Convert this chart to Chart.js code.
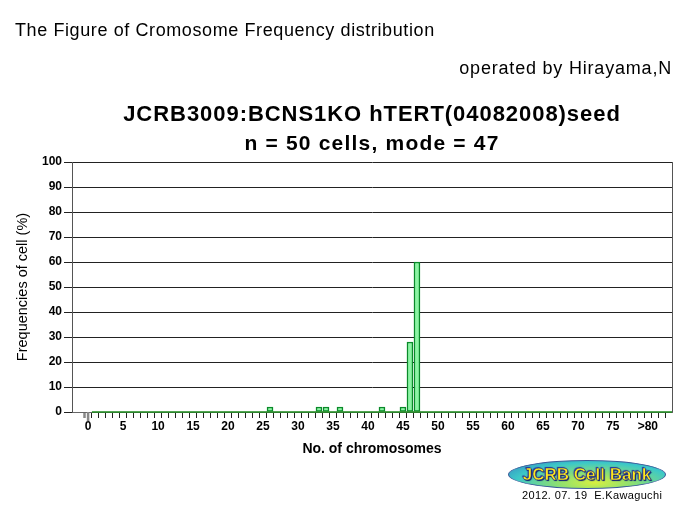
<!DOCTYPE html>
<html>
<head>
<meta charset="utf-8">
<script src="https://cdn.jsdelivr.net/npm/chart.js@4.4.1/dist/chart.umd.min.js"></script>
<style>
body { margin: 0; background: #fff; font-family: "Liberation Sans", Arial, sans-serif; }
#wrap { position: relative; width: 700px; height: 520px; overflow: hidden; }
#chart { position: absolute; left: 0; top: 0; }
.txt { position: absolute; white-space: nowrap; color: #000; }
#head { left: 15px; top: 20px; font-size: 18px; letter-spacing: 0.6px; }
#oper { right: 28px; top: 58px; font-size: 18px; letter-spacing: 0.8px; }
#title1, #title2 { left: 72px; width: 600px; text-align: center; font-weight: bold; }
#title1 { top: 101px; font-size: 22px; letter-spacing: 0.95px; }
#title2 { top: 131px; font-size: 21px; letter-spacing: 1.2px; }
#logo {
    position: absolute; left: 508px; top: 460px; width: 156px; height: 27px;
    border-radius: 50%; border: 1px solid #3a5a9a;
    background: radial-gradient(ellipse at 55% 80%, #d8f040 0%, #8ee070 30%, #3cc8c8 65%, #3478c0 100%);
    text-align: center; line-height: 27px;
    font-weight: bold; font-size: 17px; color: #ffe81a;
    -webkit-text-stroke: 0.5px #1c2a8c;
    text-shadow: 1px 1px 1px #10186a, -1px -1px 1px #2a3aa0;
}
#date { left: 522px; top: 489px; font-size: 11px; letter-spacing: 0.35px; }
</style>
</head>
<body>
<div id="wrap">
    <canvas id="chart" width="700" height="520"></canvas>
    <div class="txt" id="head">The Figure of Cromosome Frequency distribution</div>
    <div class="txt" id="oper">operated by Hirayama,N</div>
    <div class="txt" id="title1">JCRB3009:BCNS1KO hTERT(04082008)seed</div>
    <div class="txt" id="title2">n = 50 cells, mode = 47</div>
    <div id="logo">JCRB Cell Bank</div>
    <div class="txt" id="date">2012. 07. 19&nbsp; E.Kawaguchi</div>
</div>
<script>
// chromosome counts with non-zero frequency, and their frequency (%)
var chromosomes = [26, 33, 34, 36, 42, 45, 46, 47];
var frequencies = [2, 2, 2, 2, 2, 2, 28, 60];
// tick labels on the x axis, every 5 chromosomes
var xTickLabels = ['0', '5', '10', '15', '20', '25', '30', '35', '40', '45', '50', '55', '60', '65', '70', '75', '>80'];
var yTicks = [0, 10, 20, 30, 40, 50, 60, 70, 80, 90, 100];

var points = chromosomes.map(function (c, i) {
    return { x: c, y: frequencies[i] };
});

// green line for the empty classes, right border, long tick at 0
var framePlugin = {
    id: 'frame',
    afterDatasetsDraw: function (chart) {
        var ctx = chart.ctx;
        var area = chart.chartArea;
        var x = chart.scales.x;
        var y = chart.scales.y;
        ctx.save();
        ctx.strokeStyle = '#1a8a1a';
        ctx.lineWidth = 1.5;
        ctx.beginPath();
        ctx.moveTo(x.getPixelForValue(0.55), y.getPixelForValue(0));
        ctx.lineTo(area.right, y.getPixelForValue(0));
        ctx.stroke();
        ctx.strokeStyle = '#555';
        ctx.lineWidth = 1;
        ctx.beginPath();
        ctx.moveTo(area.right + 0.5, area.top);
        ctx.lineTo(area.right + 0.5, area.bottom);
        ctx.stroke();
        ctx.strokeStyle = '#888';
        ctx.lineWidth = 2.5;
        ctx.beginPath();
        ctx.moveTo(x.getPixelForValue(0), area.bottom);
        ctx.lineTo(x.getPixelForValue(0), area.bottom + 9);
        ctx.stroke();
        ctx.restore();
    }
};

var ctx = document.getElementById('chart').getContext('2d');

var chart = new Chart(ctx, {
    type: 'bar',
    data: {
        datasets: [{
            label: 'Frequencies',
            data: points,
            backgroundColor: '#8cf5a4',
            borderColor: '#0a8a2a',
            borderWidth: 1.5,
            borderSkipped: false,
            barThickness: 6
        }]
    },
    options: {
        responsive: false,
        animation: false,
        layout: { padding: { top: 162, right: 28, bottom: 58, left: 0 } },
        plugins: {
            legend: { display: false },
            tooltip: { enabled: false }
        },
        scales: {
            x: {
                type: 'linear',
                offset: false,
                min: -2.3,
                max: 83.45,
                afterFit: function (scale) { scale.height = 50; },
                afterBuildTicks: function (scale) {
                    scale.ticks = scale.ticks.filter(function (t) { return t.value >= 0 && t.value <= 83; });
                },
                ticks: {
                    stepSize: 1,
                    includeBounds: false,
                    autoSkip: false,
                    maxRotation: 0,
                    padding: 1,
                    color: '#000',
                    font: { family: 'Liberation Sans', size: 12, weight: 'bold' },
                    callback: function (value) {
                        return value % 5 === 0 && value / 5 < xTickLabels.length ? xTickLabels[value / 5] : '';
                    }
                },
                grid: {
                    drawOnChartArea: false,
                    tickLength: 6,
                    color: function (c) { return c.tick && c.tick.value === 0 ? '#888' : '#222'; },
                    tickWidth: function (c) { return c.tick && c.tick.value === 0 ? 2.5 : 1; }
                },
                border: { color: '#666', width: 1 },
                title: {
                    display: true,
                    text: 'No. of chromosomes',
                    color: '#000',
                    font: { family: 'Liberation Sans', size: 14, weight: 'bold' },
                    padding: { top: 0, bottom: 4 }
                }
            },
            y: {
                min: 0,
                max: 100,
                afterFit: function (scale) { scale.width = 72; },
                afterBuildTicks: function (scale) {
                    scale.ticks = yTicks.map(function (v) { return { value: v }; });
                },
                ticks: {
                    padding: 2,
                    color: '#000',
                    font: { family: 'Liberation Sans', size: 12, weight: 'bold' }
                },
                grid: {
                    color: '#222',
                    lineWidth: 1,
                    tickLength: 8
                },
                border: { color: '#555', width: 1 },
                title: {
                    display: true,
                    text: 'Frequencies of cell (%)',
                    color: '#000',
                    font: { family: 'Liberation Sans', size: 14.5 },
                    padding: { top: 14, bottom: 0 }
                }
            }
        }
    },
    plugins: [framePlugin]
});
</script>
</body>
</html>
